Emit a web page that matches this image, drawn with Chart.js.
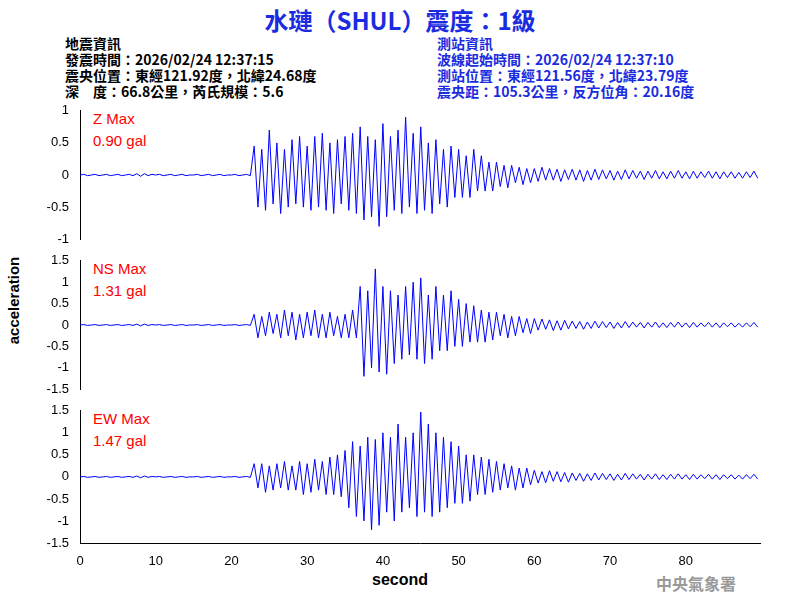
<!DOCTYPE html>
<html><head><meta charset="utf-8">
<script src="https://cdn.jsdelivr.net/npm/chart.js"></script>
<style>
body{margin:0;width:800px;height:600px;background:#fff;position:relative;overflow:hidden;font-family:"Liberation Sans",Arial,sans-serif}
.t{position:absolute;white-space:nowrap}
canvas{position:absolute;left:0}
.info{font-family:"Noto Sans CJK TC","Liberation Sans",sans-serif;font-size:14px;line-height:16px;font-weight:bold}
</style></head><body>
<div class="t" style="left:0;width:800px;text-align:center;top:2px;font-size:24px;font-weight:bold;color:#1a2be0;font-family:'Noto Sans CJK TC','Liberation Sans',sans-serif">水璉（SHUL）震度：1級</div>
<div class="t info" style="left:65px;top:35px;color:#000">地震資訊<br>發震時間：2026/02/24 12:37:15<br>震央位置：東經121.92度，北緯24.68度<br>深　度：66.8公里，芮氏規模：5.6</div>
<div class="t info" style="left:437px;top:35px;color:#1a2be0">測站資訊<br>波線起始時間：2026/02/24 12:37:10<br>測站位置：東經121.56度，北緯23.79度<br>震央距：105.3公里，反方位角：20.16度</div>
<div class="t" style="left:93px;top:108px;color:#f00;font-size:15px;line-height:22px">Z Max<br>0.90 gal</div>
<div class="t" style="left:93px;top:258px;color:#f00;font-size:15px;line-height:22px">NS Max<br>1.31 gal</div>
<div class="t" style="left:93px;top:408px;color:#f00;font-size:15px;line-height:22px">EW Max<br>1.47 gal</div>
<div class="t" style="left:-30px;top:292px;font-size:15px;font-weight:bold;transform:rotate(-90deg)">acceleration</div>
<div class="t" style="left:372px;top:571px;font-size:16px;font-weight:bold">second</div>
<div class="t" style="left:656px;top:571px;font-size:16px;font-weight:bold;color:#999;font-family:'Noto Sans CJK TC',serif">中央氣象署</div>
<canvas id="cz" width="770" height="150" style="top:100px;width:770px;height:150px"></canvas>
<canvas id="cn" width="770" height="150" style="top:250px;width:770px;height:150px"></canvas>
<canvas id="ce" width="770" height="180" style="top:400px;width:770px;height:180px"></canvas>
<script>
const SAMPLE_STEP = 0.5; // seconds between values
const quiet = [0,0.01,-0.01,0,0.01,-0.01,0,0.01,-0.01,0];
const quietBlip = [0.01,-0.01,0,0.01,-0.01,0.02,-0.02,0.02,-0.01,0.01];
const tail = [0.09,-0.08,0.08,-0.1,0.07,-0.08,0.09,-0.07,0.08,-0.06,
  0.07,-0.08,0.06,-0.07,0.08,-0.06,0.07,-0.05,0.06,-0.07,
  0.06,-0.05,0.07,-0.06,0.05,-0.06,0.06,-0.05,0.07,-0.05,
  0.05,-0.06,0.06,-0.05,0.05,-0.04,0.06,-0.05,0.05,-0.06,
  0.05,-0.04,0.05,-0.05,0.04,-0.05,0.05,-0.04,0.06,-0.05];

const zValues = [].concat(quiet, quietBlip, quiet, quiet,
  [0,0.01,-0.01,0,0.01,-0.01,0.45,-0.5,0.4,-0.55],
  [0.7,-0.45,0.5,-0.6,0.4,-0.5,0.55,-0.45,0.6,-0.5],
  [0.45,-0.55,0.6,-0.5,0.65,-0.55,0.5,-0.6,0.55,-0.45],
  [0.6,-0.55,0.65,-0.6,0.75,-0.7,0.6,-0.65,0.55,-0.8],
  [0.8,-0.65,0.6,-0.55,0.7,-0.6,0.9,-0.5,0.65,-0.6],
  [0.75,-0.55,0.5,-0.6,0.55,-0.45,0.4,-0.5,0.45,-0.35],
  [0.4,-0.35,0.3,-0.35,0.4,-0.25,0.3,-0.25,0.2,-0.25],
  [0.2,-0.18,0.15,-0.2,0.15,-0.12,0.12,-0.15,0.1,-0.12],
  [0.1,-0.1,0.12,-0.08,0.1,-0.08,0.09,-0.1,0.08,-0.07],
  tail);

const nsValues = [].concat(quiet, quietBlip, quiet, quiet,
  [0,0.01,-0.01,0,0.01,-0.01],
  [0.25,-0.3,0.2,-0.25,0.3,-0.2,0.25,-0.3,0.35,-0.25,0.3,-0.35,0.25,-0.3,
   0.3,-0.25,0.35,-0.3,0.25,-0.3,0.3,-0.25,0.2,-0.3,0.25,-0.3,0.35,-0.3],
  [0.9,-1.2,0.8,-1.0,1.31,-1.1,0.9,-1.15,0.8,-0.9,0.7,-0.8,0.9,
   -0.7,1.0,-0.8,1.1,-0.9,0.7,-0.8,0.9,-0.6,0.7,-0.6,0.8,-0.5],
  [0.6,-0.5,0.5,-0.4,0.45,-0.4,0.35,-0.4,0.3,-0.35,0.3,-0.25,0.25,-0.3,0.2,-0.25,0.2,-0.18,0.15,-0.2],
  [0.15,-0.12,0.14,-0.1,0.12,-0.13,0.1,-0.12,0.11,-0.09],
  tail);

const ewValues = [].concat(quiet, quietBlip, quiet, quiet,
  [0,0.01,-0.01,0,0.01,-0.01],
  [0.3,-0.25,0.3,-0.35,0.25,-0.3,0.3,-0.25,0.35,-0.3,0.25,-0.3,
   0.35,-0.4,0.3,-0.35,0.4,-0.3,0.35,-0.4,0.45,-0.4,0.5,-0.45],
  [0.6,-0.7,0.8,-0.9,0.7,-1.0,0.9,-1.2,0.85,-1.1,1.0,-0.8,0.9,-1.0,1.2,
   -0.8,0.9,-0.7,1.0,-0.9,1.47,-0.8,1.2,-0.9,1.0,-0.8,0.9,-0.7,0.8,-0.6],
  [0.7,-0.6,0.5,-0.55,0.5,-0.4,0.45,-0.4,0.4,-0.35,0.35,-0.3,0.3,-0.25,0.25,-0.3,0.2,-0.25,0.2,-0.18],
  [0.15,-0.14,0.12,-0.13,0.14,-0.1,0.12,-0.11,0.1,-0.12],
  tail);

const xTicks = [0,10,20,30,40,50,60,70,80];
const zTicks = [-1,-0.5,0,0.5,1];
const hTicks = [-1.5,-1,-0.5,0,0.5,1,1.5];

function makePanel(id, values, lim, yTicks, showX) {
  const pts = values.map((v, i) => ({ x: i * SAMPLE_STEP, y: v }));
  const xScale = {
    type: 'linear', min: 0, max: 89.8, display: showX,
    grid: { display: false },
    border: { color: '#000' },
    afterBuildTicks: s => { s.ticks = xTicks.map(v => ({ value: v })); },
    ticks: { color: '#000', font: { size: 13 } }
  };
  if (showX) xScale.afterFit = s => { s.height = 37; };
  return new Chart(document.getElementById(id), {
    type: 'line',
    data: { datasets: [{ data: pts, borderColor: '#0000ff', borderWidth: 1, pointRadius: 0, tension: 0 }] },
    options: {
      responsive: false, animation: false,
      layout: { padding: { top: 7, right: 10, bottom: showX ? 0 : 7 } },
      plugins: { legend: { display: false }, tooltip: { enabled: false } },
      scales: {
        x: xScale,
        y: {
          min: -lim, max: lim,
          grid: { display: false, drawTicks: true },
          border: { color: '#000' },
          afterFit: s => { s.width = 80; },
          afterBuildTicks: s => { s.ticks = yTicks.map(v => ({ value: v })); },
          ticks: { color: '#000', font: { size: 13 }, callback: v => String(v) }
        }
      }
    }
  });
}
Chart.defaults.font.family = "'Liberation Sans', Arial, sans-serif";
makePanel('cz', zValues, 1, zTicks, false);
makePanel('cn', nsValues, 1.5, hTicks, false);
makePanel('ce', ewValues, 1.5, hTicks, true);
</script>
</body></html>
